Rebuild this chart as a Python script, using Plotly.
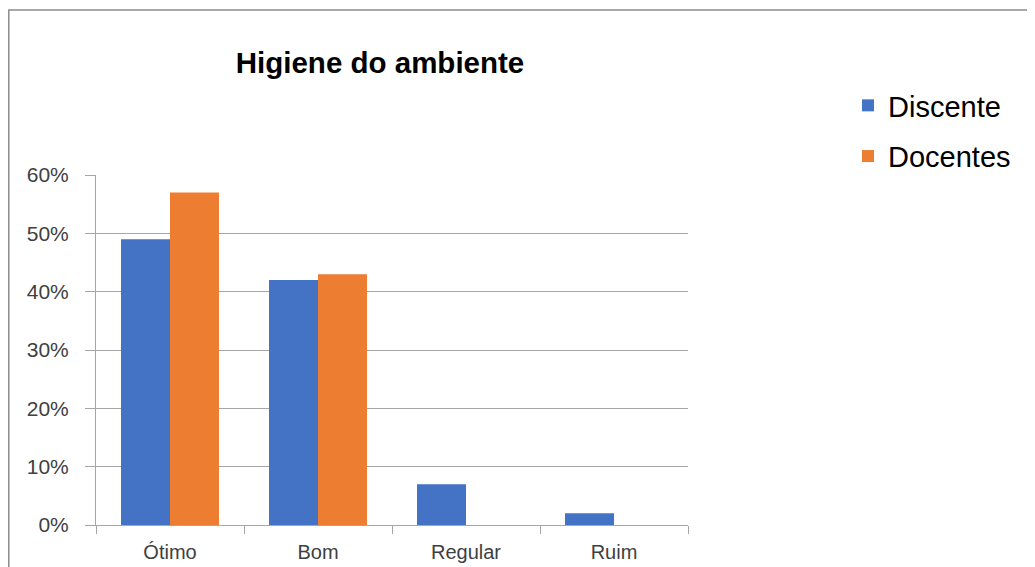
import plotly.graph_objects as go

categories = ["Ótimo", "Bom", "Regular", "Ruim"]
discente = [0.49, 0.42, 0.07, 0.02]
docentes = [0.57, 0.43, 0.0, 0.0]
y_ticks = [0, 0.1, 0.2, 0.3, 0.4, 0.5, 0.6]
y_tick_labels = ["0%", "10%", "20%", "30%", "40%", "50%", "60%"]

fig = go.Figure()
fig.add_trace(go.Bar(name="Discente", x=categories, y=discente,
                     marker=dict(color="#4472C4", line=dict(width=0)),
                     legendgroup="a"))
fig.add_trace(go.Bar(name="Docentes", x=categories, y=docentes,
                     marker=dict(color="#ED7D31", line=dict(width=0)),
                     legendgroup="b"))

OFF = 8  # page body margin
W, H = 1035, 567
L, R, T, B = 96 - OFF, 688 - OFF, 175 - OFF, 525 - OFF

fig.update_layout(
    width=W, height=H,
    margin=dict(l=L, r=W - R, t=T, b=H - B, pad=0, autoexpand=False),
    paper_bgcolor="white", plot_bgcolor="white",
    barmode="group", bargap=0.338, bargroupgap=0,
    font=dict(family="Liberation Sans, Arial, sans-serif", color="#404040"),
    title=dict(text="<b>Higiene do ambiente</b>", x=(380 - OFF) / W, xanchor="center",
               y=1 - (63 - OFF) / H, yanchor="middle", xref="container",
               font=dict(size=29.5, color="#000000")),
    legend=dict(x=(848 - OFF - L) / (R - L), xanchor="left", y=(B - (80 - OFF)) / (B - T), yanchor="top",
                font=dict(size=29, color="#000000"), tracegroupgap=10,
                itemwidth=30, bgcolor="rgba(0,0,0,0)"),
    showlegend=True,
)

fig.update_xaxes(
    type="category", showgrid=False, showline=True, linecolor="#A6A6A6", linewidth=1,
    ticks="outside", tickson="boundaries", ticklen=8, tickcolor="#A6A6A6",
    tickfont=dict(size=20, color="#404040"), ticklabelstandoff=9, automargin=False,
)
fig.update_yaxes(
    range=[0, 0.6], tickvals=y_ticks, ticktext=y_tick_labels,
    showgrid=True, gridcolor="#A6A6A6", gridwidth=1,
    showline=True, linecolor="#A6A6A6", linewidth=1,
    ticks="outside", ticklen=10, tickcolor="#A6A6A6",
    tickfont=dict(size=21, color="#404040"), ticklabelstandoff=12,
    zeroline=False, automargin=False,
)

# outer chart border (cropped at right and bottom)
fig.add_shape(type="rect", xref="paper", yref="paper",
              x0=(0.8 - L) / (R - L), x1=(1100 - L) / (R - L),
              y0=(B - 640) / (B - T), y1=(B - (10 - OFF)) / (B - T),
              line=dict(color="#8C8C8C", width=1.5), fillcolor="rgba(0,0,0,0)", layer="below")

fig.write_html("out.html")
